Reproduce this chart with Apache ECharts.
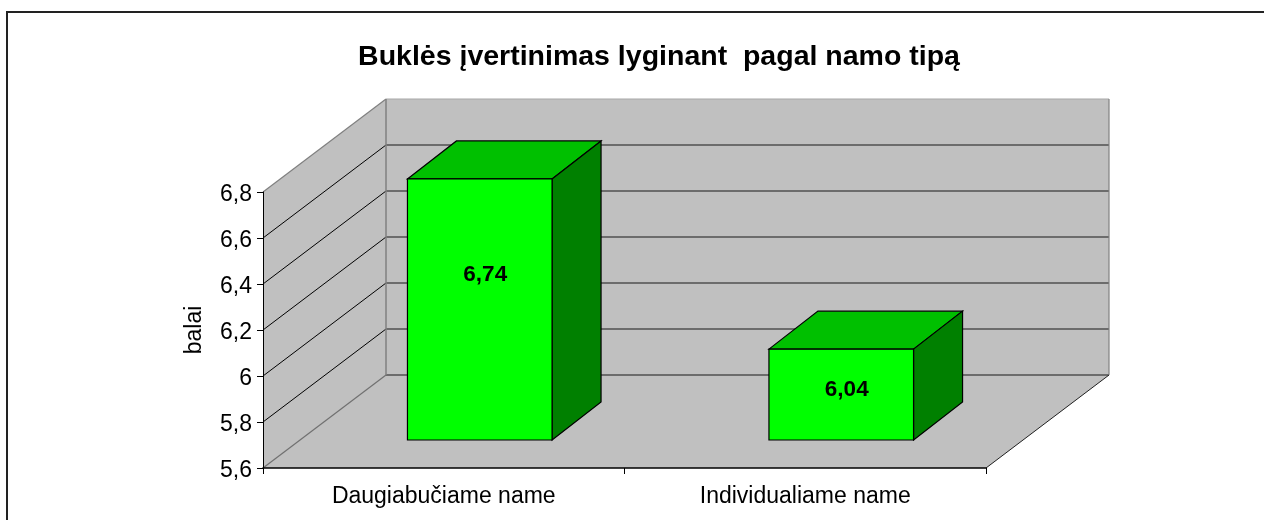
<!DOCTYPE html>
<html>
<head>
<meta charset="utf-8">
<style>
  html, body { margin: 0; padding: 0; background: #fff; }
  #myChart { width: 1264px; height: 520px; }
</style>
<script src="https://cdn.jsdelivr.net/npm/echarts@6/dist/echarts.min.js"></script>
</head>
<body>
<div id="myChart"></div>
<script>
var titleText = 'Buklės įvertinimas lyginant  pagal namo tipą'
var yAxisName = 'balai'
var categories = ['Daugiabučiame name', 'Individualiame name']
var yTicks = [5.6, 5.8, 6, 6.2, 6.4, 6.6, 6.8]
// heights as drawn: the second box stands lower than its printed 6,04
var barValues = [6.735, 5.995]
var barLabels = ['6,74', '6,04']

var fontName = '"Liberation Sans", Arial, sans-serif'
var yMin = yTicks[0]
var yMax = yTicks[yTicks.length - 1]
var wallDepth = [123, -93] // how far the back wall sits from the front
var barShift = [36, -28] // box front, off the front axis
var barDepth = [49, -38]

function poly (points, fill, z) {
  return {
    type: 'polygon',
    z2: z || 0,
    shape: { points: points },
    style: { fill: fill, stroke: '#000', lineWidth: 1.2 }
  }
}

function line (a, b, color, width) {
  return {
    type: 'line',
    shape: { x1: a[0], y1: a[1], x2: b[0], y2: b[1] },
    style: { stroke: color, lineWidth: width || 1 }
  }
}

function back (p) {
  return [p[0] + wallDepth[0], p[1] + wallDepth[1]]
}

function renderRoom (params, api) {
  var c = params.coordSys
  var x0 = c.x
  var x1 = c.x + c.width
  var top = c.y
  var bottom = c.y + c.height
  var faces = [
    [[x0, top], back([x0, top]), back([x0, bottom]), [x0, bottom]],
    [back([x0, top]), back([x1, top]), back([x1, bottom]), back([x0, bottom])],
    [[x0, bottom], back([x0, bottom]), back([x1, bottom]), [x1, bottom]]
  ]
  var children = faces.map(function (f) {
    return { type: 'polygon', shape: { points: f }, style: { fill: '#C0C0C0' } }
  })
  yTicks.slice(1, -1).forEach(function (v) {
    var y = api.coord([0, v])[1]
    children.push(line([x0, y], back([x0, y]), '#000'))
    children.push(line(back([x0, y]), back([x1, y]), '#505050', 1.5))
  })
  children.push(line(back([x0, bottom]), back([x1, bottom]), '#505050', 1.5))
  children.push(line([x0, top], back([x0, top]), '#808080', 1.2))
  children.push(line(back([x0, top]), back([x1, top]), '#A8A8A8', 1.2))
  children.push(line(back([x0, top]), back([x0, bottom]), '#808080', 1.5))
  children.push(line(back([x1, top]), back([x1, bottom]), '#808080', 1.2))
  children.push(line([x0, bottom], back([x0, bottom]), '#707070', 1.2))
  children.push(line([x1, bottom], back([x1, bottom]), '#202020', 1))
  return { type: 'group', children: children }
}

function renderBar (params, api) {
  var i = api.value(0)
  var base = api.coord([i, yMin])
  var peak = api.coord([i, api.value(1)])
  var width = api.size([1, 0])[0] * 0.4
  var left = base[0] - width / 2 + barShift[0]
  var right = left + width
  var bottom = base[1] + barShift[1]
  var top = peak[1] + barShift[1]
  var dx = barDepth[0]
  var dy = barDepth[1]
  var height = bottom - top
  return {
    type: 'group',
    children: [
      poly([[left, top], [left + dx, top + dy], [right + dx, top + dy], [right, top]], '#00C000'),
      poly([[right, top], [right + dx, top + dy], [right + dx, bottom + dy], [right, bottom]], '#008000'),
      poly([[left, top], [right, top], [right, bottom], [left, bottom]], '#00FF00'),
      {
        type: 'text',
        style: {
          x: (left + right) / 2 + 5.5,
          y: top + height * 0.32 + 12,
          text: barLabels[params.dataIndex],
          align: 'center',
          verticalAlign: 'middle',
          fill: '#000',
          font: 'bold 22.5px ' + fontName
        }
      }
    ]
  }
}

var myChart = echarts.init(document.getElementById('myChart'))
myChart.setOption({
  animation: false,
  backgroundColor: '#fff',
  title: {
    text: titleText,
    left: 654,
    top: 38,
    textAlign: 'center',
    textStyle: { fontFamily: fontName, fontWeight: 'bold', fontSize: 28.5, color: '#000' }
  },
  graphic: [
    {
      type: 'polyline',
      shape: { points: [[7, 520], [7, 12], [1264, 12]] },
      style: { fill: 'none', stroke: '#222', lineWidth: 2 }
    }
  ],
  grid: { left: 263, right: 278, top: 192, bottom: 52 },
  xAxis: {
    type: 'category',
    z: 5,
    data: categories,
    axisLine: { lineStyle: { color: '#000', width: 1.5 } },
    axisTick: { show: true, length: 6, lineStyle: { color: '#000' } },
    axisLabel: { margin: 17, fontFamily: fontName, fontSize: 23, color: '#000' }
  },
  yAxis: {
    type: 'value',
    z: 5,
    min: yMin,
    max: yMax,
    interval: 0.2,
    name: yAxisName,
    nameLocation: 'middle',
    nameGap: 57,
    nameRotate: 90,
    nameTextStyle: { fontFamily: fontName, fontSize: 23, color: '#000' },
    splitLine: { show: false },
    axisLine: { show: true, lineStyle: { color: '#000', width: 1 } },
    axisTick: { show: true, length: 6, lineStyle: { color: '#000' } },
    axisLabel: {
      margin: 11,
      fontFamily: fontName,
      fontSize: 23,
      color: '#000',
      formatter: function (v) { return '{t|' + String(+v.toFixed(1)).replace('.', ',') + '}' },
      rich: {
        t: { padding: [6, 0, 0, 0], fontFamily: fontName, fontSize: 23, color: '#000' }
      }
    }
  },
  series: [
    {
      type: 'custom',
      silent: true,
      z: 1,
      clip: false,
      data: [[0, yMin]],
      encode: { x: 0, y: 1 },
      renderItem: renderRoom
    },
    {
      type: 'custom',
      z: 3,
      clip: false,
      data: barValues.map(function (v, i) { return [i, v] }),
      encode: { x: 0, y: 1 },
      renderItem: renderBar
    }
  ]
})
</script>
</body>
</html>
